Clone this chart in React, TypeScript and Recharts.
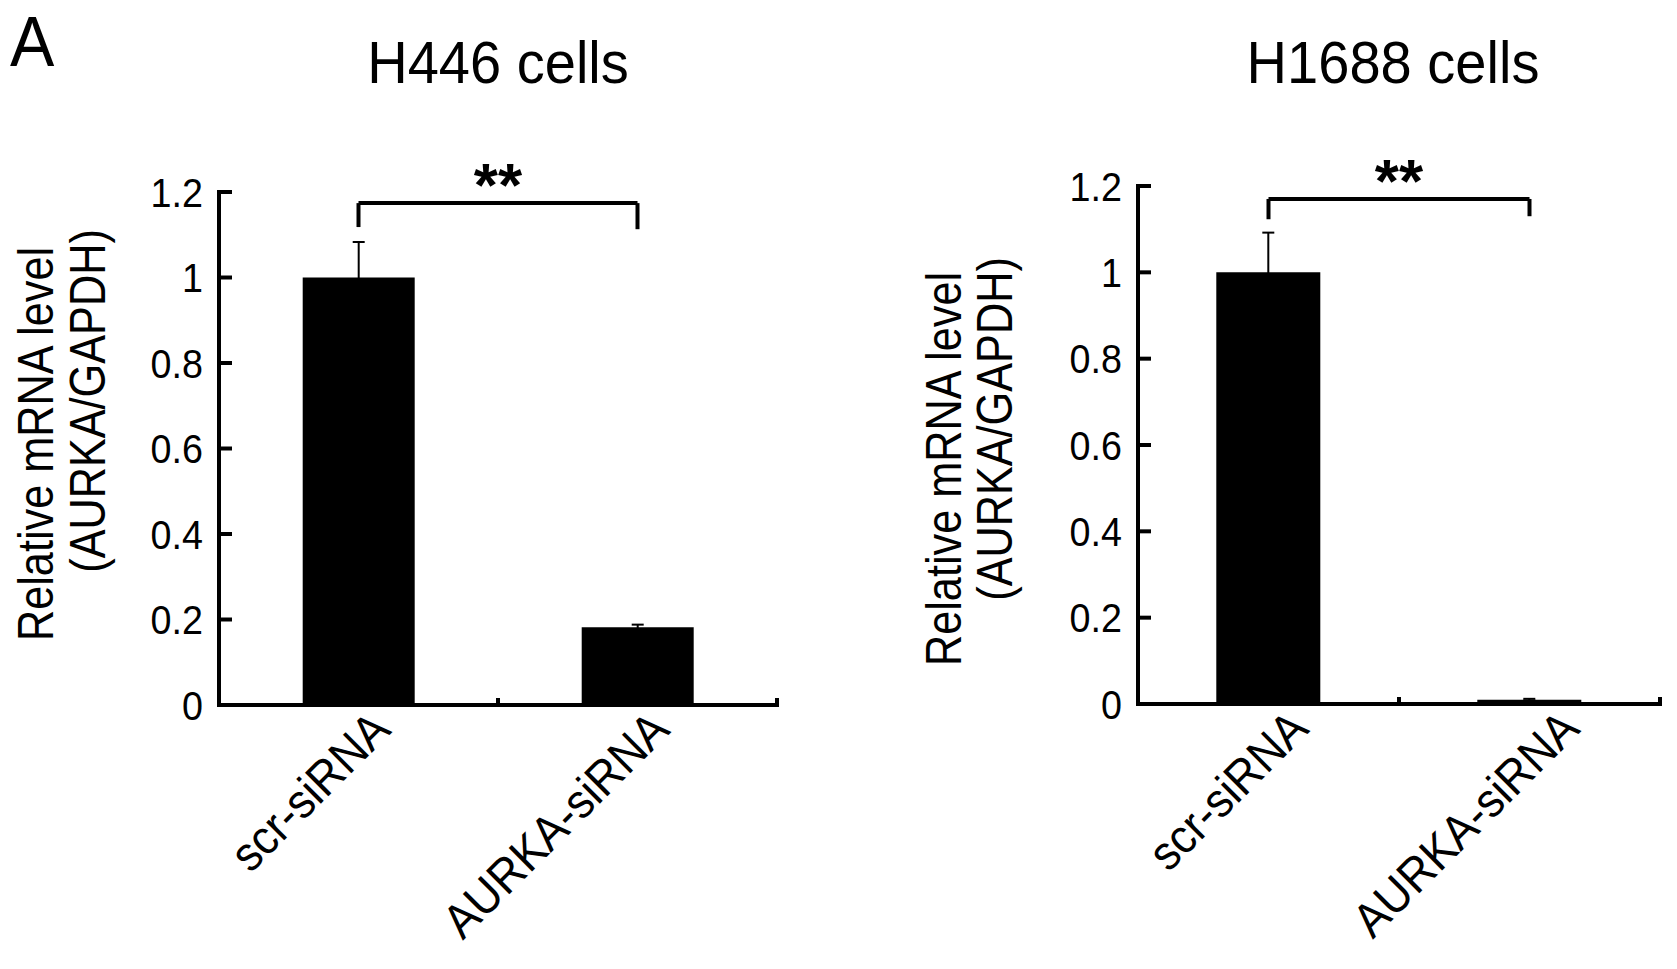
import React from 'react';
import { BarChart, Bar, XAxis, YAxis, ErrorBar, ReferenceLine } from 'recharts';

// data
const categories = ['scr-siRNA', 'AURKA-siRNA'];
const h446Values = [1.0, 0.182];
const h446Errors = [0.083, 0.006];
const h1688Values = [1.0, 0.01];
const h1688Errors = [0.092, 0.002];
const yTicks = [0, 0.2, 0.4, 0.6, 0.8, 1, 1.2];
// significance bracket: [bar height, left leg end, right leg end]
const h446Bracket = [1.174, 1.118, 1.113];
const h1688Bracket = [1.17, 1.123, 1.13];

const FONT = '"Liberation Sans", Arial, Helvetica, sans-serif';

// the figure's lettering is a little narrower than Arial, so squeeze it along the baseline
function NarrowText({ x, y, size, sx = 1, rotate = 0, anchor = 'start', dy, children }: any) {
  return (
    <text
      transform={`translate(${x}, ${y}) rotate(${rotate}) scale(${sx}, 1)`}
      fontSize={size}
      fontFamily={FONT}
      textAnchor={anchor}
      dy={dy}
      fill="#000"
    >
      {children}
    </text>
  );
}

function YTick(props: any) {
  const { x, y, payload } = props;
  return (
    <g>
      <line x1={x} x2={x + 13} y1={y} y2={y} stroke="#000" strokeWidth={4} />
      <NarrowText x={x - 16} y={y} dy="0.36em" size={41} sx={0.92} anchor="end">
        {String(payload.value)}
      </NarrowText>
    </g>
  );
}

function makeXTick(band: number, shift: number[]) {
  return function XTick(props: any) {
    const { x, y, payload, index } = props;
    const tx = x + 34 + (shift[index] || 0);
    const ty = y + 27;
    return (
      <g>
        <line x1={x + band / 2} x2={x + band / 2} y1={y} y2={y - 7} stroke="#000" strokeWidth={4} />
        <NarrowText x={tx} y={ty} size={48} sx={0.93} rotate={-45} anchor="end">
          {payload.value}
        </NarrowText>
      </g>
    );
  };
}

type PanelProps = {
  left: number;
  width: number;
  plotLeft: number;
  plotRight: number;
  plotTop: number;
  plotBottom: number;
  values: number[];
  errors: number[];
  bracket: number[];
  labelShift: number[];
};

function Panel({ left, width, plotLeft, plotRight, plotTop, plotBottom, values, errors, bracket, labelShift }: PanelProps) {
  const data = categories.map((name, i) => ({ name, value: values[i], err: errors[i] }));
  const height = 969;
  const band = (plotRight - plotLeft) / categories.length;
  const [top, l, r] = bracket;
  return (
    <div style={{ position: 'absolute', left, top: 0 }}>
      <BarChart
        width={width}
        height={height}
        data={data}
        barCategoryGap="30%"
        margin={{ top: plotTop, right: left + width - plotRight, bottom: height - plotBottom - 1, left: plotLeft - left - 1 }}
      >
        <XAxis
          dataKey="name"
          height={1}
          interval={0}
          tickLine={false}
          tickSize={0}
          tickMargin={0}
          axisLine={{ stroke: '#000', strokeWidth: 4, strokeLinecap: 'square' }}
          tick={makeXTick(band, labelShift)}
        />
        <YAxis
          width={1}
          domain={[0, 1.2]}
          ticks={yTicks}
          allowDataOverflow
          tickLine={false}
          tickSize={0}
          tickMargin={0}
          axisLine={{ stroke: '#000', strokeWidth: 4, strokeLinecap: 'square' }}
          tick={<YTick />}
        />
        <Bar dataKey="value" fill="#000" isAnimationActive={false}>
          <ErrorBar dataKey="err" width={6} stroke="#000" strokeWidth={2} direction="y" />
        </Bar>
        <ReferenceLine
          segment={[{ x: categories[0], y: top }, { x: categories[1], y: top }]}
          stroke="#000"
          strokeWidth={4}
          label={{ value: '**', position: 'top', offset: -3, fontSize: 62, fontWeight: 'bold', fill: '#000', fontFamily: FONT }}
        />
        <ReferenceLine segment={[{ x: categories[0], y: top }, { x: categories[0], y: l }]} stroke="#000" strokeWidth={4} />
        <ReferenceLine segment={[{ x: categories[1], y: top }, { x: categories[1], y: r }]} stroke="#000" strokeWidth={4} />
      </BarChart>
    </div>
  );
}

export default function App() {
  return (
    <div style={{ position: 'absolute', left: 0, top: 0, width: 1677, height: 969, background: '#fff', overflow: 'hidden' }}>
      <Panel
        left={0} width={840} plotLeft={219} plotRight={777} plotTop={192} plotBottom={705}
        values={h446Values} errors={h446Errors} bracket={h446Bracket} labelShift={[0, 0]}
      />
      <Panel
        left={900} width={777} plotLeft={1138} plotRight={1660} plotTop={186} plotBottom={704}
        values={h1688Values} errors={h1688Errors} bracket={h1688Bracket} labelShift={[8, 18]}
      />
      <svg width={1677} height={969} style={{ position: 'absolute', left: 0, top: 0, pointerEvents: 'none' }}>
        <NarrowText x={10} y={66} size={70} sx={0.95}>A</NarrowText>
        <NarrowText x={498} y={83} size={59} sx={0.95} anchor="middle">H446 cells</NarrowText>
        <NarrowText x={1393} y={83} size={59} sx={0.95} anchor="middle">H1688 cells</NarrowText>
        <NarrowText x={53} y={444} size={50} sx={0.865} rotate={-90} anchor="middle">Relative mRNA level</NarrowText>
        <NarrowText x={105} y={401} size={50} sx={0.865} rotate={-90} anchor="middle">(AURKA/GAPDH)</NarrowText>
        <NarrowText x={961} y={469} size={50} sx={0.865} rotate={-90} anchor="middle">Relative mRNA level</NarrowText>
        <NarrowText x={1012} y={429} size={50} sx={0.865} rotate={-90} anchor="middle">(AURKA/GAPDH)</NarrowText>
      </svg>
    </div>
  );
}
